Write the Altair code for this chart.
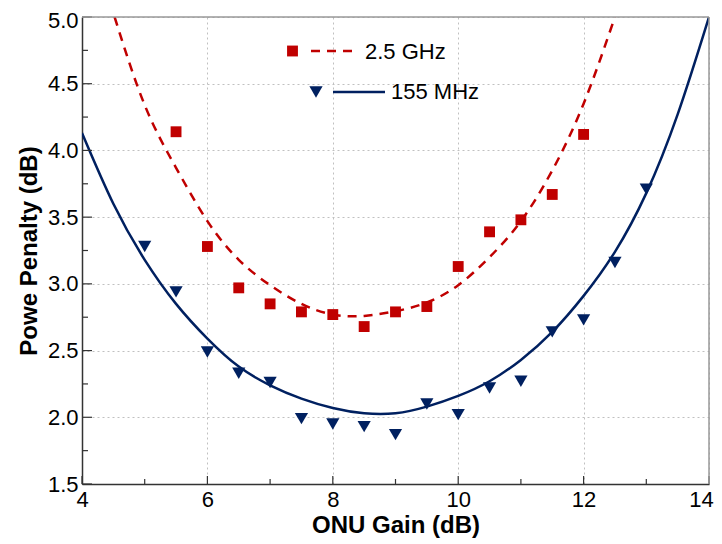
import altair as alt
import pandas as pd

# Measured data points
gain_ghz = [5.5, 6.0, 6.5, 7.0, 7.5, 8.0, 8.5, 9.0, 9.5, 10.0, 10.5, 11.0, 11.5, 12.0]
pen_ghz = [4.14, 3.28, 2.97, 2.85, 2.79, 2.77, 2.68, 2.79, 2.83, 3.13, 3.39, 3.48, 3.67, 4.12]

gain_mhz = [5.0, 5.5, 6.0, 6.5, 7.0, 7.5, 8.0, 8.5, 9.0, 9.5, 10.0, 10.5, 11.0, 11.5, 12.0, 12.5, 13.0]
pen_mhz = [3.28, 2.94, 2.49, 2.33, 2.26, 1.99, 1.95, 1.93, 1.87, 2.10, 2.02, 2.22, 2.27, 2.64, 2.73, 3.16, 3.71]

# Fitted curves
fit_ghz_x = [4.52, 5.0, 5.5, 6.0, 6.5, 7.0, 7.5, 8.0, 8.5, 9.0, 9.5, 10.0, 10.5, 11.0, 11.5, 12.0, 12.5]
fit_ghz_y = [5.0, 4.34, 3.87, 3.47, 3.18, 2.99, 2.85, 2.77, 2.76, 2.795, 2.86, 2.99, 3.20, 3.47, 3.85, 4.35, 5.0]

fit_mhz_x = [4.0, 4.5, 5.0, 5.5, 6.0, 6.5, 7.0, 7.5, 8.0, 8.5, 9.0, 9.5, 10.0, 10.5, 11.0, 11.5, 12.0, 12.5, 13.0, 13.5, 14.0]
fit_mhz_y = [4.13, 3.60, 3.18, 2.85, 2.59, 2.38, 2.24, 2.14, 2.07, 2.03, 2.03, 2.08, 2.16, 2.27, 2.43, 2.64, 2.91, 3.24, 3.68, 4.27, 5.0]

x_major = [4, 6, 8, 10, 12, 14]
x_minor = [5, 7, 9, 11, 13]
y_major = [1.5, 2.0, 2.5, 3.0, 3.5, 4.0, 4.5, 5.0]
y_minor = [1.75, 2.25, 2.75, 3.25, 3.75, 4.25, 4.75]

RED = "#C00000"
NAVY = "#002060"
FONT = "Liberation Sans"
W, H = 627, 467

xs = alt.Scale(domain=[4, 14], nice=False, zero=False)
ys = alt.Scale(domain=[1.5, 5.0], nice=False, zero=False)

xax = alt.Axis(values=x_major, format="d", grid=True, gridColor="#c0c0c0", gridDash=[2, 3], gridWidth=1,
               ticks=False, labelPadding=5, labelFontSize=22, labelFont=FONT, labelColor="#000",
               labelOffset={"condition": {"test": "datum.value == 14", "value": -8}, "value": 0},
               domainColor="#333", domainWidth=1.5, title="ONU Gain (dB)", titleFontSize=24,
               titleFont=FONT, titleFontWeight="bold", titleColor="#000", titlePadding=3,
               labelFlush=False)
yax = alt.Axis(values=y_major, grid=True, gridColor="#c0c0c0", gridDash=[2, 3], gridWidth=1,
               ticks=False, labelPadding=4, labelFontSize=22, labelFont=FONT, labelColor="#000",
               labelOffset={"condition": {"test": "datum.value == 5", "value": 3}, "value": 0},
               format=".1f", domainColor="#333", domainWidth=1.5, title="Powe Penalty (dB)",
               titleFontSize=24, titleFont=FONT, titleFontWeight="bold", titleColor="#000",
               titlePadding=6, labelFlush=False)

df_ghz = pd.DataFrame({"x": gain_ghz, "y": pen_ghz})
df_mhz = pd.DataFrame({"x": gain_mhz, "y": pen_mhz})
df_fg = pd.DataFrame({"x": fit_ghz_x, "y": fit_ghz_y})
df_fm = pd.DataFrame({"x": fit_mhz_x, "y": fit_mhz_y})

base_axes = alt.Chart(df_fm).mark_line(opacity=0).encode(
    x=alt.X("x:Q", scale=xs, axis=xax),
    y=alt.Y("y:Q", scale=ys, axis=yax),
)

line_g = alt.Chart(df_fg).mark_line(color=RED, strokeWidth=2.5, strokeDash=[9, 7],
                                     interpolate="natural", clip=True).encode(
    x=alt.X("x:Q", scale=xs), y=alt.Y("y:Q", scale=ys))
line_m = alt.Chart(df_fm).mark_line(color=NAVY, strokeWidth=2.5,
                                     interpolate="natural", clip=True).encode(
    x=alt.X("x:Q", scale=xs), y=alt.Y("y:Q", scale=ys))

pts_g = alt.Chart(df_ghz).mark_point(shape="square", filled=True, color=RED, size=118, opacity=1).encode(
    x=alt.X("x:Q", scale=xs), y=alt.Y("y:Q", scale=ys))
pts_m = alt.Chart(df_mhz).mark_point(shape="triangle-down", filled=True, color=NAVY, size=175, opacity=1).encode(
    x=alt.X("x:Q", scale=xs), y=alt.Y("y:Q", scale=ys))

# inward ticks
tick_col = "#333"
xt_major = alt.Chart(pd.DataFrame({"x": x_major})).mark_rule(color=tick_col, strokeWidth=1.2).encode(
    x=alt.X("x:Q", scale=xs), y=alt.value(H), y2=alt.value(H - 8))
xt_minor = alt.Chart(pd.DataFrame({"x": x_minor})).mark_rule(color=tick_col, strokeWidth=1.2).encode(
    x=alt.X("x:Q", scale=xs), y=alt.value(H), y2=alt.value(H - 5))
yt_major = alt.Chart(pd.DataFrame({"y": y_major})).mark_rule(color=tick_col, strokeWidth=1.2).encode(
    y=alt.Y("y:Q", scale=ys), x=alt.value(0), x2=alt.value(10))
yt_minor = alt.Chart(pd.DataFrame({"y": y_minor})).mark_rule(color=tick_col, strokeWidth=1.2).encode(
    y=alt.Y("y:Q", scale=ys), x=alt.value(0), x2=alt.value(6))

# frame top/right
frame_top = alt.Chart(pd.DataFrame({"a": [0]})).mark_rule(color="#999", strokeWidth=1.5).encode(
    x=alt.value(0), x2=alt.value(W), y=alt.value(0))
frame_right = alt.Chart(pd.DataFrame({"a": [0]})).mark_rule(color="#999", strokeWidth=1.5).encode(
    x=alt.value(W), y=alt.value(0), y2=alt.value(H))

# legend
leg_df = pd.DataFrame({"a": [0]})
lg_sq = alt.Chart(leg_df).mark_point(shape="square", filled=True, color=RED, size=118, opacity=1).encode(
    x=alt.value(210.5), y=alt.value(34))
lg_dash = alt.Chart(leg_df).mark_rule(color=RED, strokeWidth=2.5, strokeDash=[9, 7]).encode(
    x=alt.value(229), x2=alt.value(274), y=alt.value(34))
lg_t1 = alt.Chart(leg_df).mark_text(text="2.5 GHz", align="left", baseline="middle", fontSize=22,
                                     font=FONT, color="#000").encode(x=alt.value(283), y=alt.value(35))
lg_tri = alt.Chart(leg_df).mark_point(shape="triangle-down", filled=True, color=NAVY, size=175, opacity=1).encode(
    x=alt.value(234), y=alt.value(75))
lg_line = alt.Chart(leg_df).mark_rule(color=NAVY, strokeWidth=2.5).encode(
    x=alt.value(251), x2=alt.value(303), y=alt.value(75))
lg_t2 = alt.Chart(leg_df).mark_text(text="155 MHz", align="left", baseline="middle", fontSize=22,
                                     font=FONT, color="#000").encode(x=alt.value(309), y=alt.value(75))

chart = alt.layer(
    base_axes, line_g, line_m, pts_g, pts_m,
    xt_major, xt_minor, yt_major, yt_minor, frame_top, frame_right,
    lg_sq, lg_dash, lg_t1, lg_tri, lg_line, lg_t2,
).properties(
    width=W, height=H,
    autosize=alt.AutoSizeParams(type="none"),
    padding={"left": 74, "top": 9, "right": 5, "bottom": 58},
    background="white",
).configure_view(stroke=None)

chart.save("out.html", embed_options={"renderer": "svg", "actions": False})
